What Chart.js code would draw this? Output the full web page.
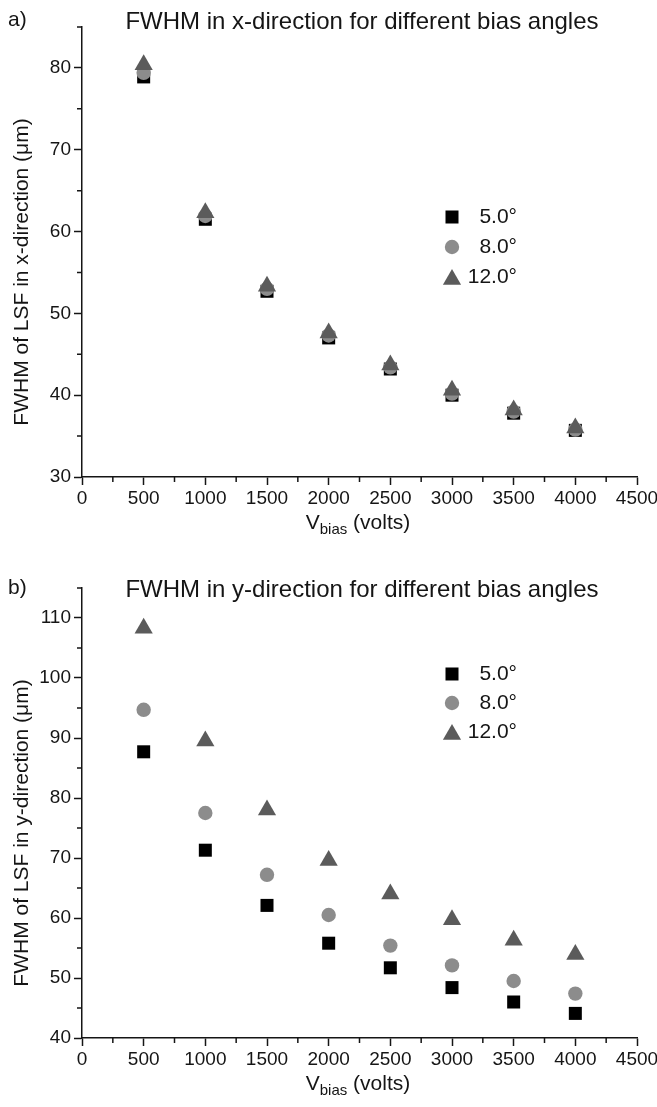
<!DOCTYPE html>
<html>
<head>
<meta charset="utf-8">
<script src="https://cdn.jsdelivr.net/npm/chart.js@4.4.1/dist/chart.umd.min.js"></script>
<style>
  html, body { margin: 0; padding: 0; background: #fff; }
  #wrap { position: relative; width: 657px; height: 1107px; }
  .panel { position: absolute; left: 0; width: 657px; }
</style>
</head>
<body>
<div id="wrap">
  <div class="panel" style="top:0;height:555px"><canvas id="chartX"></canvas></div>
  <div class="panel" style="top:555px;height:552px"><canvas id="chartY"></canvas></div>
</div>
<script>
// bias voltages (volts)
const biasVoltages = [500, 1000, 1500, 2000, 2500, 3000, 3500, 4000];
const angleLabels = ["5.0°", "8.0°", "12.0°"];

// a) FWHM in x-direction (um)
const fwhmX_5 = [78.9, 61.5, 52.7, 47.0, 43.2, 40.0, 37.8, 35.7];
const fwhmX_8 = [79.4, 61.9, 53.0, 47.3, 43.4, 40.2, 38.0, 35.8];
const fwhmX_12 = [80.4, 62.3, 53.3, 47.6, 43.7, 40.6, 38.2, 36.0];

// b) FWHM in y-direction (um)
const fwhmY_5 = [87.7, 71.3, 62.1, 55.8, 51.7, 48.4, 46.0, 44.1];
const fwhmY_8 = [94.7, 77.5, 67.2, 60.5, 55.4, 52.1, 49.5, 47.4];
const fwhmY_12 = [108.3, 89.5, 78.0, 69.6, 64.0, 59.7, 56.3, 53.9];

const FONT = "'Liberation Sans', Arial, Helvetica, sans-serif";
const INK = "#151515";

Chart.defaults.font.family = FONT;
Chart.defaults.color = INK;

const toPoints = (vals) => vals.map((v, i) => ({ x: biasVoltages[i], y: v }));

function makeDatasets(s5, s8, s12) {
  return [
    { label: angleLabels[0], data: toPoints(s5), pointStyle: "rect", pointRadius: 9.2,
      backgroundColor: "#000000", borderWidth: 0, order: 2 },
    { label: angleLabels[1], data: toPoints(s8), pointStyle: "circle", pointRadius: 7.2,
      backgroundColor: "#8c8c8c", borderWidth: 0, order: 1 },
    { label: angleLabels[2], data: toPoints(s12), pointStyle: "triangle", pointRadius: 10.5,
      backgroundColor: "#5b5b5b", borderWidth: 0, order: 0 },
  ];
}

// titles, minor ticks, subscripted x title and the legend
const decor = {
  id: "decor",
  afterDraw(chart, args, o) {
    const { ctx, chartArea: a, scales: { x, y } } = chart;
    ctx.save();
    ctx.strokeStyle = INK;
    ctx.lineWidth = 1.5;
    ctx.beginPath();
    x.ticks.forEach((t) => {
      if (t.value % 500 !== 0) {
        const px = x.getPixelForValue(t.value);
        ctx.moveTo(px, a.bottom);
        ctx.lineTo(px, a.bottom + 5);
      }
    });
    y.ticks.forEach((t) => {
      if (t.value % 10 !== 0) {
        const py = y.getPixelForValue(t.value);
        ctx.moveTo(a.left - 5, py);
        ctx.lineTo(a.left, py);
      }
    });
    ctx.stroke();

    ctx.fillStyle = INK;
    ctx.textBaseline = "middle";
    ctx.font = "24px " + FONT;
    ctx.textAlign = "center";
    ctx.fillText(o.title, o.titleX, o.titleY);
    ctx.font = "21px " + FONT;
    ctx.textAlign = "left";
    ctx.fillText(o.panel, 8, o.titleY - 2);

    // y axis title
    ctx.save();
    ctx.translate(22, (a.top + a.bottom) / 2 + 20);
    ctx.rotate(-Math.PI / 2);
    ctx.textAlign = "center";
    ctx.fillText(o.yTitle, 0, 0);
    ctx.restore();

    // x axis title: V with subscript "bias"
    ctx.textBaseline = "alphabetic";
    const base = a.bottom + 52;
    ctx.font = "21px " + FONT;
    const wV = ctx.measureText("V").width;
    const wRest = ctx.measureText(" (volts)").width;
    ctx.font = "15px " + FONT;
    const wSub = ctx.measureText("bias").width;
    let cx = 358 - (wV + wSub + wRest) / 2;
    ctx.font = "21px " + FONT;
    ctx.fillText("V", cx, base);
    cx += wV;
    ctx.font = "15px " + FONT;
    ctx.fillText("bias", cx, base + 5);
    cx += wSub;
    ctx.font = "21px " + FONT;
    ctx.fillText(" (volts)", cx, base);

    // legend
    ctx.textBaseline = "middle";
    ctx.textAlign = "right";
    chart.data.datasets.forEach((ds, i) => {
      const ly = o.legendY + i * o.legendGap;
      ctx.fillStyle = ds.backgroundColor;
      const off = ds.pointStyle === "triangle" ? 2.5 : 0;
      Chart.helpers.drawPoint(ctx, { pointStyle: ds.pointStyle, radius: ds.pointRadius, rotation: 0, borderWidth: 0 }, 452, ly + off);
      ctx.fillStyle = INK;
      ctx.font = "21px " + FONT;
      ctx.fillText(ds.label, 517, ly);
    });
    ctx.restore();
  },
};

function makeOptions(c) {
  return {
    responsive: true,
    maintainAspectRatio: false,
    animation: false,
    layout: { padding: { top: c.top, right: 20, left: 0, bottom: 0 } },
    plugins: {
      legend: { display: false },
      tooltip: { enabled: false },
      decor: c.decor,
    },
    scales: {
      x: {
        type: "linear",
        min: 0,
        max: 4500,
        ticks: {
          stepSize: 250,
          autoSkip: false,
          maxRotation: 0,
          padding: 2,
          font: { size: 19 },
          color: INK,
          callback: (v) => (v % 500 === 0 ? String(v) : ""),
        },
        grid: {
          drawOnChartArea: false,
          tickLength: 8,
          tickWidth: 1.5,
          tickColor: (ctx) => (ctx.tick && ctx.tick.value % 500 === 0 ? INK : "rgba(0,0,0,0)"),
        },
        border: { color: INK, width: 1.5 },
        afterFit: (s) => {
          s.height = c.height - c.bottom;
          s.paddingLeft = 0;
          s.paddingRight = 0;
        },
      },
      y: {
        type: "linear",
        min: c.yMin,
        max: c.yMax,
        ticks: {
          stepSize: 5,
          autoSkip: false,
          padding: 3,
          font: { size: 19 },
          color: INK,
          callback: (v) => (v % 10 === 0 ? String(v) : ""),
        },
        grid: {
          drawOnChartArea: false,
          tickLength: 8,
          tickWidth: 1.5,
          tickColor: (ctx) => (ctx.tick && ctx.tick.value % 10 === 0 ? INK : "rgba(0,0,0,0)"),
        },
        border: { color: INK, width: 1.5 },
        afterFit: (s) => {
          s.width = 82;
          s.paddingTop = 0;
          s.paddingBottom = 0;
        },
      },
    },
  };
}

new Chart(document.getElementById("chartX"), {
  type: "scatter",
  data: { datasets: makeDatasets(fwhmX_5, fwhmX_8, fwhmX_12) },
  options: makeOptions({
    top: 27, height: 555, bottom: 477, yMin: 30, yMax: 85,
    decor: {
      panel: "a)", title: "FWHM in x-direction for different bias angles",
      titleX: 362, titleY: 22, yTitle: "FWHM of LSF in x-direction (\u03bcm)",
      legendY: 217, legendGap: 30,
    },
  }),
  plugins: [decor],
});

new Chart(document.getElementById("chartY"), {
  type: "scatter",
  data: { datasets: makeDatasets(fwhmY_5, fwhmY_8, fwhmY_12) },
  options: makeOptions({
    top: 33, height: 552, bottom: 483, yMin: 40, yMax: 115,
    decor: {
      panel: "b)", title: "FWHM in y-direction for different bias angles",
      titleX: 362, titleY: 35, yTitle: "FWHM of LSF in y-direction (\u03bcm)",
      legendY: 119, legendGap: 29,
    },
  }),
  plugins: [decor],
});
</script>
</body>
</html>
